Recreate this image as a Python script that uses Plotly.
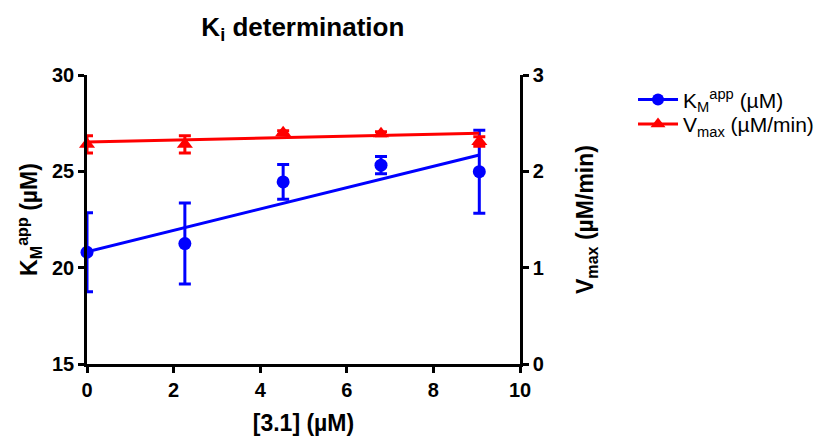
import plotly.graph_objects as go

# Data
conc = [0, 2.26, 4.53, 6.79, 9.06]
km_app = [20.8, 21.25, 24.45, 25.32, 24.98]
km_err = [2.05, 2.1, 0.9, 0.45, 2.15]
vmax = [2.28, 2.28, 2.40, 2.39, 2.31]
vmax_err = [0.09, 0.09, 0.02, 0.02, 0.05]
km_fit_x = [0, 9.06]
km_fit_y = [20.83, 25.85]
vmax_fit_x = [0, 9.06]
vmax_fit_y = [2.305, 2.395]

BLUE = "#0000FF"
RED = "#FF0000"
FONT = "Liberation Sans, Arial, sans-serif"

fig = go.Figure()

fig.add_trace(go.Scatter(x=km_fit_x, y=km_fit_y, mode="lines",
                         line=dict(color=BLUE, width=3), showlegend=False,
                         cliponaxis=False, yaxis="y"))
fig.add_trace(go.Scatter(x=vmax_fit_x, y=vmax_fit_y, mode="lines",
                         line=dict(color=RED, width=3), showlegend=False,
                         cliponaxis=False, yaxis="y2"))

fig.add_trace(go.Scatter(x=conc, y=km_app, mode="markers",
                         marker=dict(color=BLUE, size=13, symbol="circle"),
                         error_y=dict(type="data", array=km_err, color=BLUE,
                                      thickness=3, width=6),
                         showlegend=False, cliponaxis=False, yaxis="y"))
fig.add_trace(go.Scatter(x=conc, y=vmax, mode="markers",
                         marker=dict(color=RED, size=14, symbol="triangle-up"),
                         error_y=dict(type="data", array=vmax_err, color=RED,
                                      thickness=3, width=6),
                         showlegend=False, cliponaxis=False, yaxis="y2"))

# legend entries
fig.add_trace(go.Scatter(x=[None], y=[None], mode="lines+markers",
                         name="K<sub>M</sub><sup>app</sup> (µM)",
                         line=dict(color=BLUE, width=3),
                         marker=dict(color=BLUE, size=12, symbol="circle"),
                         legend="legend"))
fig.add_trace(go.Scatter(x=[None], y=[None], mode="lines+markers",
                         name="V<sub>max</sub> (µM/min)",
                         line=dict(color=RED, width=3),
                         marker=dict(color=RED, size=13, symbol="triangle-up"),
                         legend="legend2"))

axis_common = dict(showgrid=False, zeroline=False, showline=True,
                   linecolor="black", linewidth=2.5, ticks="outside",
                   tickwidth=2.5, ticklen=6, tickcolor="black",
                   tickfont=dict(family=FONT, size=20, color="black", weight="bold"))

legend_common = dict(x=1.261, xanchor="left", yanchor="top", itemwidth=40,
                     font=dict(family=FONT, size=21, color="black"),
                     bgcolor="rgba(0,0,0,0)")

fig.update_layout(
    width=840, height=438,
    margin=dict(l=79, r=328, t=67, b=82),
    paper_bgcolor="white", plot_bgcolor="white",
    title=dict(text="K<sub>i</sub> determination", x=0.351,
               xanchor="center", y=0.957, yanchor="middle",
               font=dict(family=FONT, size=26, color="black", weight="bold")),
    xaxis=dict(range=[0, 10], tickvals=[0, 2, 4, 6, 8, 10],
               title=dict(text="[3.1] (µM)", standoff=16,
                          font=dict(family=FONT, size=23, color="black", weight="bold")),
               **axis_common),
    yaxis=dict(range=[15, 30], tickvals=[15, 20, 25, 30],
               title=dict(text="K<sub>M</sub><sup>app</sup> (µM)", standoff=8,
                          font=dict(family=FONT, size=23, color="black", weight="bold")),
               **axis_common),
    yaxis2=dict(range=[0, 3], tickvals=[0, 1, 2, 3], overlaying="y", side="right",
                anchor="x",
                title=dict(text="V<sub>max</sub> (µM/min)", standoff=35,
                           font=dict(family=FONT, size=23, color="black", weight="bold")),
                **axis_common),
    legend=dict(y=0.985, **legend_common),
    legend2=dict(y=0.9, **legend_common),
)

fig.write_html("out.html")
